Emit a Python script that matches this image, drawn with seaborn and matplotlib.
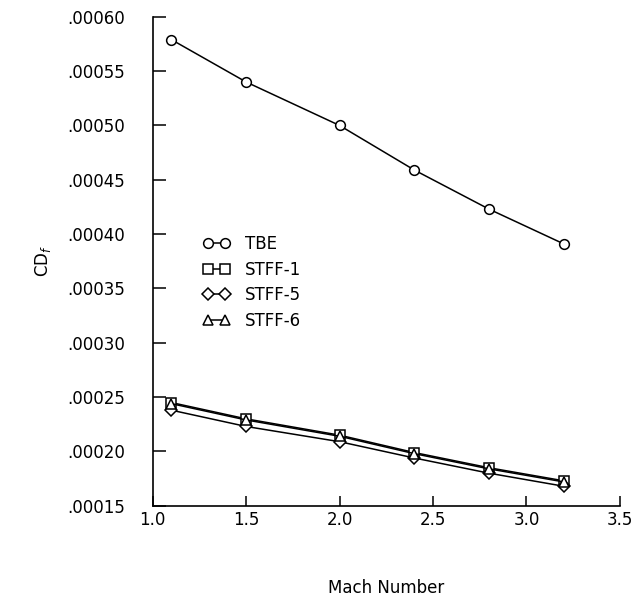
import seaborn as sns
import matplotlib.pyplot as plt
from matplotlib.ticker import FuncFormatter, MultipleLocator

# values
mach = [1.1, 1.5, 2.0, 2.4, 2.8, 3.2]
tbe = [0.000579, 0.000540, 0.000500, 0.000459, 0.000423, 0.000391]
stff1 = [0.000245, 0.000230, 0.000215, 0.000199, 0.000185, 0.000173]
stff5 = [0.000238, 0.000223, 0.000209, 0.000194, 0.000180, 0.000168]
stff6 = [0.000244, 0.000229, 0.000214, 0.000198, 0.000184, 0.000172]
labels = ['TBE', 'STFF-1', 'STFF-5', 'STFF-6']

sns.set_style('white')
plt.rcParams['font.family'] = ['DejaVu Sans']
plt.rcParams['text.color'] = 'black'
plt.rcParams['axes.labelcolor'] = 'black'
plt.rcParams['xtick.color'] = 'black'
plt.rcParams['ytick.color'] = 'black'

fig = plt.figure(figsize=(6.39, 6.0), dpi=100)
ax = fig.add_axes([0.239, 0.157, 0.731, 0.815])

series = [tbe, stff1, stff5, stff6]
markers = ['o', 's', 'D', '^']
msizes = [7, 6.5, 6, 6.5]
for vals, lab, mk, ms in zip(series, labels, markers, msizes):
    sns.lineplot(x=mach, y=vals, ax=ax, color='black', linewidth=1.1,
                 marker=mk, markersize=ms, markerfacecolor='white',
                 markeredgecolor='black', markeredgewidth=1.1, label=lab)

ax.set_xlim(1.0, 3.5)
ax.set_ylim(0.00015, 0.00060)
ax.xaxis.set_major_locator(MultipleLocator(0.5))
ax.yaxis.set_major_locator(MultipleLocator(0.00005))
ax.yaxis.set_major_formatter(FuncFormatter(lambda v, p: f"{v:.5f}"[1:]))

for s in ['top', 'right']:
    ax.spines[s].set_visible(False)
for s in ['left', 'bottom']:
    ax.spines[s].set_color('black')
    ax.spines[s].set_linewidth(1.2)

ax.tick_params(axis='y', direction='in', length=9, width=1.1, pad=20,
               labelsize=12, left=True)
ax.tick_params(axis='x', direction='in', length=7, width=1.1, pad=4,
               labelsize=12, bottom=True)

ax.set_xlabel('Mach Number', fontsize=12, labelpad=36)
ax.set_ylabel('CD$_f$', fontsize=12, labelpad=10)

leg = ax.legend(loc='upper left', bbox_to_anchor=(0.305, 0.622),
                bbox_transform=fig.transFigure, frameon=False, fontsize=12,
                handlelength=1.6, handletextpad=0.9, labelspacing=0.45,
                borderpad=0, numpoints=2)

plt.savefig('out.png', dpi=100)
